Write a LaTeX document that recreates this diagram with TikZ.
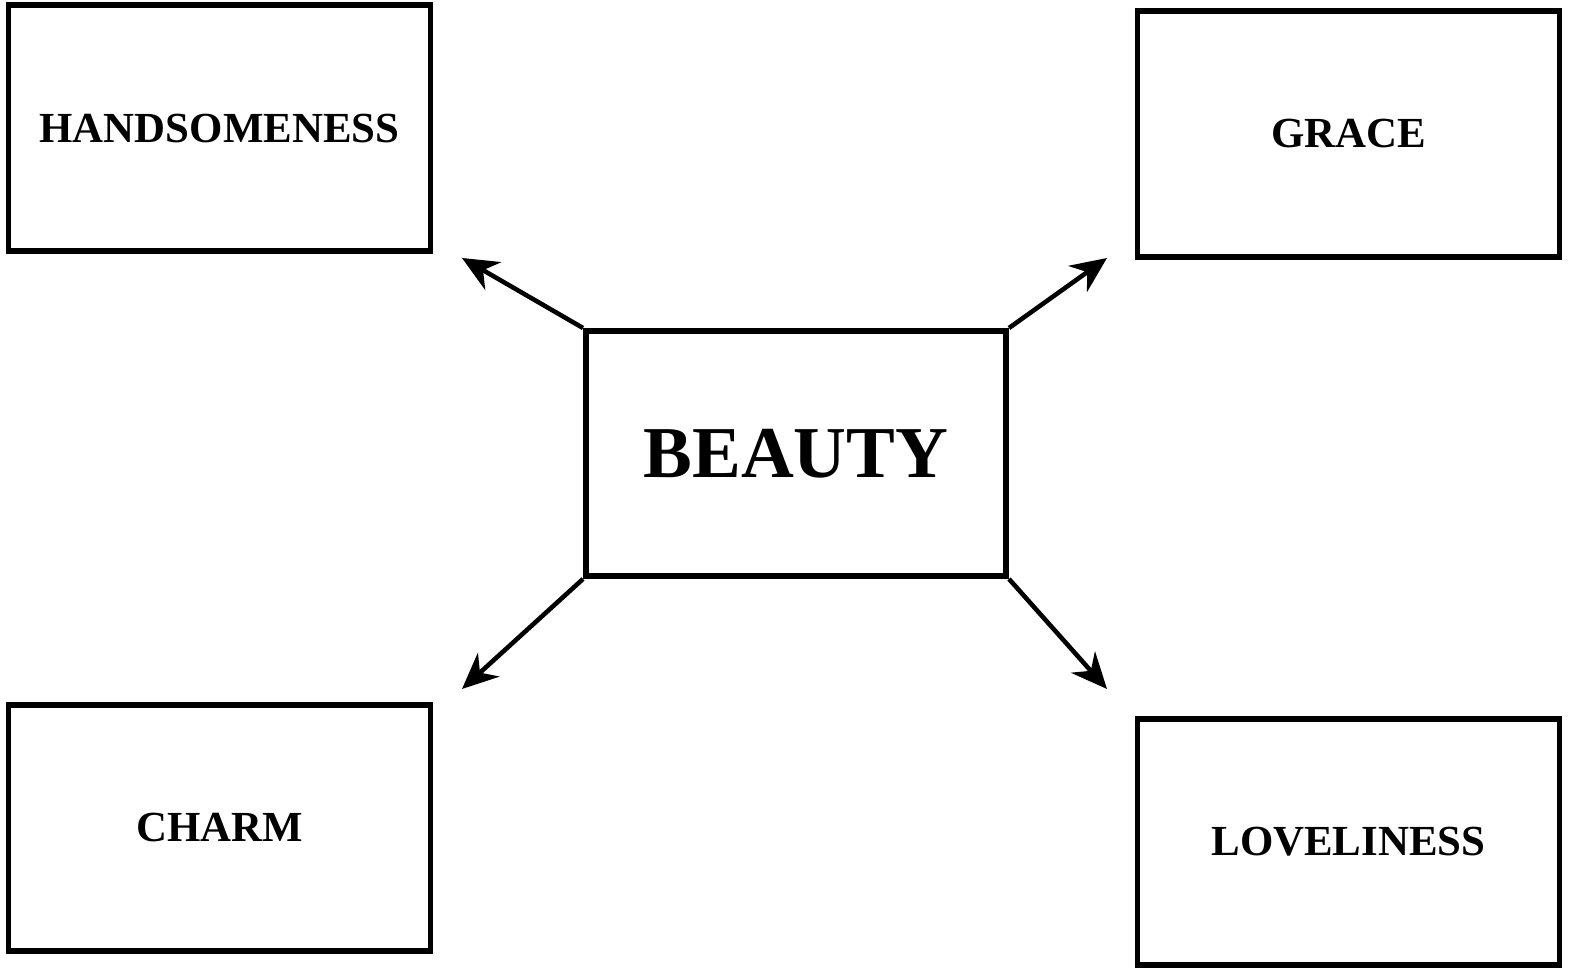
\documentclass[tikz,border=0pt]{standalone}
\usepackage{fontspec}
\setmainfont{Liberation Serif}
\usetikzlibrary{arrows.meta}

\begin{document}
\begin{tikzpicture}[
    idea/.style={draw=black, line width=1.7pt,
                 minimum width=4.22cm, minimum height=2.46cm,
                 inner sep=0pt, font=\fontsize{12.2}{14}\selectfont\bfseries},
    core/.style={idea, minimum width=4.2cm, minimum height=2.45cm,
                 font=\fontsize{20.8}{24}\selectfont\bfseries},
    arr/.style={-{Stealth[length=3.6mm, width=3.2mm]}, line width=1.3pt}
  ]
  \useasboundingbox (0,0) rectangle (15.75,9.73);

  % centre
  \node[core] (beauty) at (7.96, 5.195) {BEAUTY};

  % four corners
  \node[idea] (hand)  at (2.195, 8.445) {HANDSOMENESS};
  \node[idea] (grace) at (13.485, 8.39) {GRACE};
  \node[idea] (charm) at (2.195, 1.45) {CHARM};
  \node[idea] (love)  at (13.485, 1.31) {LOVELINESS};

  % free arrow ends
  \coordinate (tohand)  at (4.62, 7.15);
  \coordinate (tograce) at (11.07, 7.15);
  \coordinate (tocharm) at (4.62, 2.84);
  \coordinate (tolove)  at (11.07, 2.84);

  \draw[arr] (beauty.north west) -- (tohand);
  \draw[arr] (beauty.north east) -- (tograce);
  \draw[arr] (beauty.south west) -- (tocharm);
  \draw[arr] (beauty.south east) -- (tolove);
\end{tikzpicture}
\end{document}
